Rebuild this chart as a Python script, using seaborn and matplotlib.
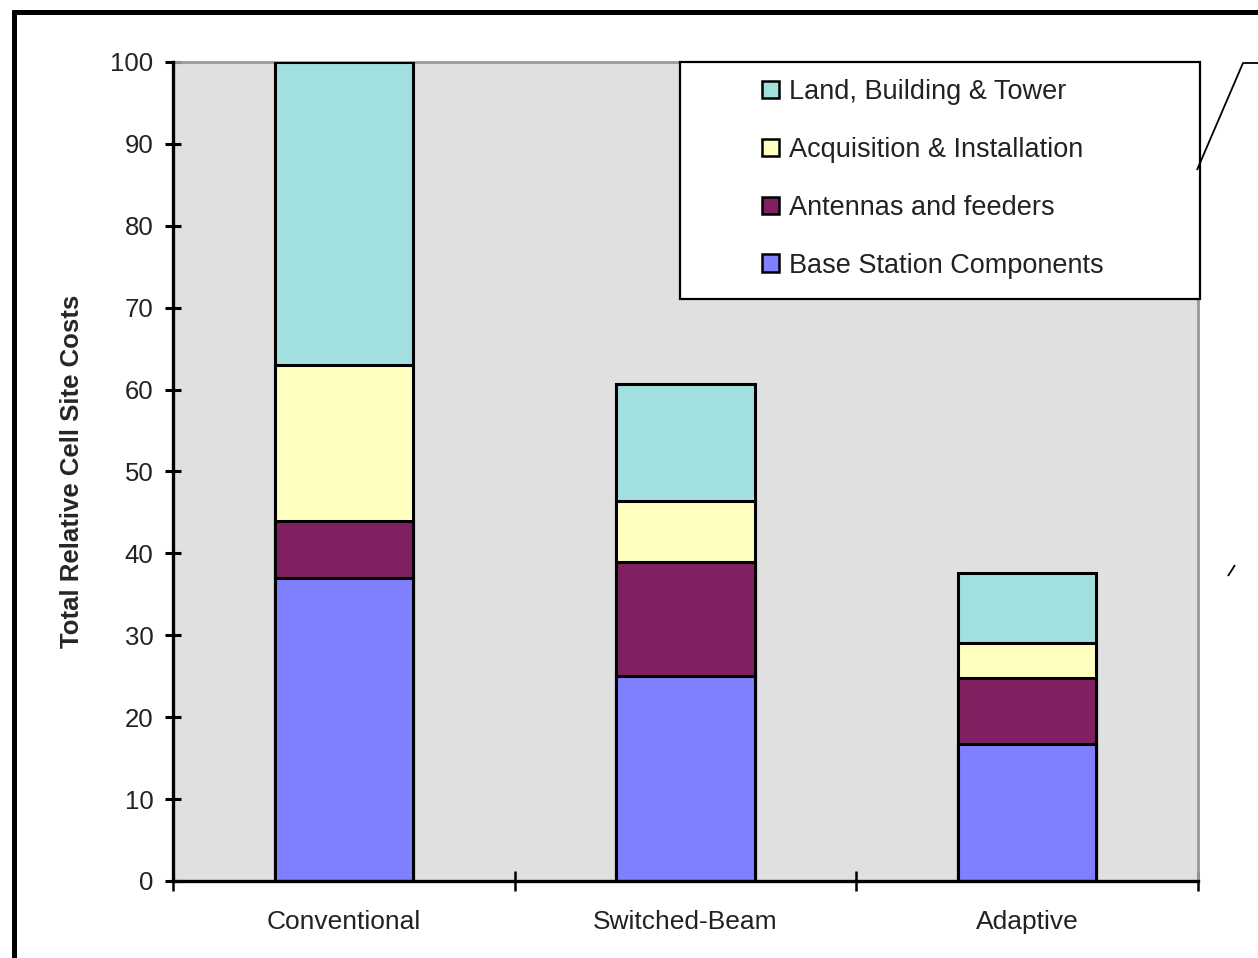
import matplotlib
matplotlib.use("Agg")
import matplotlib.pyplot as plt
from matplotlib.lines import Line2D
from matplotlib.patches import Rectangle
import numpy as np
import pandas as pd
import seaborn as sns

# Cost breakdown per antenna approach (relative units, conventional total = 100)
categories = ["Conventional", "Switched-Beam", "Adaptive"]
base_station = [37.0, 25.0, 16.7]
antennas = [7.0, 14.0, 8.1]
acquisition = [19.0, 7.4, 4.3]
land_building = [37.0, 14.3, 8.5]

series_names = [
    "Base Station Components",
    "Antennas and feeders",
    "Acquisition & Installation",
    "Land, Building & Tower",
]
series_values = [base_station, antennas, acquisition, land_building]
series_colors = ["#8080ff", "#802060", "#ffffc0", "#a2e0e0"]

yticks = [0, 10, 20, 30, 40, 50, 60, 70, 80, 90, 100]
ylabel = "Total Relative Cell Site Costs"

sns.set_theme(style="white")
plt.rcParams["font.family"] = ["Liberation Sans", "DejaVu Sans"]

W, H = 1258, 958
fig = plt.figure(figsize=(W / 100, H / 100), dpi=100)
fig.patch.set_facecolor("white")

ax = fig.add_axes([173 / W, 1 - 881 / H, (1198 - 173) / W, (881 - 62) / H])
ax.set_facecolor("#e0e0e0")

# Stacked bars: draw cumulative totals from the top segment down
cum = np.cumsum(np.array(series_values), axis=0)
for i in range(len(series_names) - 1, -1, -1):
    df = pd.DataFrame({"category": categories, "value": cum[i]})
    sns.barplot(
        data=df, x="category", y="value", ax=ax,
        color=series_colors[i], label=series_names[i],
        width=0.404, edgecolor="black", linewidth=2.2,
        saturation=1, zorder=3,
    )

ax.set_xlim(-0.5, 2.5)
ax.set_ylim(0, 100)
ax.set_yticks(yticks)
ax.set_yticklabels([str(v) for v in yticks])
ax.set_xlabel("")
ax.set_ylabel(ylabel, fontsize=18.5, fontweight="bold", labelpad=19)

ax.tick_params(axis="y", direction="inout", length=12, width=2.2,
               labelsize=18.5, pad=8, color="black", labelcolor="#222222",
               left=True)
ax.tick_params(axis="x", which="major", length=0, labelsize=19, pad=21,
               labelcolor="#222222")
ax.set_xticks([-0.5, 0.5, 1.5, 2.5], minor=True)
ax.tick_params(axis="x", which="minor", direction="inout", length=15,
               width=1.8, color="black", bottom=True)

for side in ["left", "bottom"]:
    ax.spines[side].set_color("black")
    ax.spines[side].set_linewidth(2.4)
    ax.spines[side].set_zorder(5)
for side in ["top", "right"]:
    ax.spines[side].set_color("#999999")
    ax.spines[side].set_linewidth(2.0)

# Legend box
box = Rectangle(((680 - 173) / 1025, (881 - 299) / 819),
                (1200 - 680) / 1025, (299 - 62) / 819,
                transform=ax.transAxes, facecolor="white",
                edgecolor="black", linewidth=1.6, zorder=6, clip_on=False)
ax.add_patch(box)

handles, labels = ax.get_legend_handles_labels()
leg = ax.legend(
    handles, labels, loc="upper left",
    bbox_to_anchor=(762 / W, 1 - 79 / H), bbox_transform=fig.transFigure,
    frameon=False, fontsize=19.5, borderpad=0, borderaxespad=0,
    handlelength=0.63, handleheight=0.63, handletextpad=0.35,
    labelspacing=1.18,
)
leg.set_zorder(7)
for h in leg.legend_handles:
    h.set_edgecolor("black")
    h.set_linewidth(1.8)
for t in leg.get_texts():
    t.set_color("#222222")

# Outer frame and callout lines
def px_line(xs, ys, lw, color="black"):
    fig.add_artist(Line2D([x / W for x in xs], [1 - y / H for y in ys],
                          transform=fig.transFigure, color=color,
                          linewidth=lw, solid_capstyle="butt"))

px_line([12, W], [11.5, 11.5], 3.6)
px_line([14, 14], [9.5, H], 3.6)
px_line([1197, 1243, W], [170, 63, 63], 1.3)
px_line([1228, 1235], [576, 565], 1.3)

fig.savefig("out.png", dpi=100)
